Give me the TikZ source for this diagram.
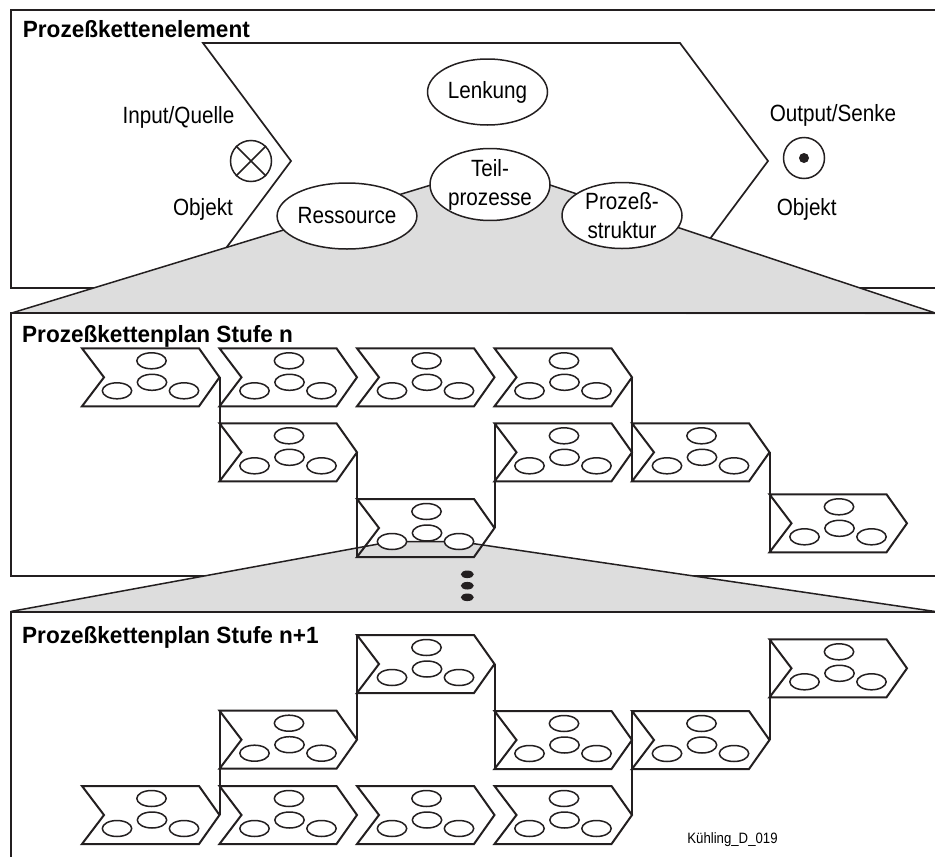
\documentclass[tikz,border=0pt]{standalone}
\usepackage{fontspec}
\setmainfont{Liberation Sans}[FakeStretch=0.88]
\newfontfamily\headfont{Liberation Sans}[FakeStretch=0.96]
\usetikzlibrary{shapes.geometric}

\definecolor{ink}{RGB}{35,31,32}
\definecolor{wedgegray}{RGB}{221,221,221}

\tikzset{
  frame/.style={draw=ink, line width=2pt},
  bigchev/.style={draw=ink, line width=1.7pt, line join=miter},
  chevline/.style={draw=ink, line width=2pt, line join=miter},
  conn/.style={draw=ink, line width=2pt},
  wedge/.style={draw=ink, line width=1.5pt},
  bigell/.style={ellipse, draw=ink, fill=white, line width=1.5pt,
    minimum width=120pt, minimum height=66pt, inner sep=0pt, align=center,
    font=\fontsize{23.5}{29}\selectfont},
  smallell/.style={draw=ink, fill=white, line width=1.5pt},
  lbl/.style={font=\fontsize{23.5}{28}\selectfont, inner sep=0pt, anchor=base},
  head/.style={font=\headfont\bfseries\fontsize{23.5}{28}\selectfont,
    inner sep=0pt, anchor=base west},
  symb/.style={circle, draw=ink, line width=1.5pt, minimum size=41pt, inner sep=0pt},
  % one small process chain element with its four resource ellipses
  pics/chev/.style={code={
    \draw[chevline] (0,0) coordinate (-tl) -- (117,0) -- (137.5,29) coordinate (-tip)
      -- (117,58) -- (0,58) coordinate (-bl) -- (22,29) -- cycle;
    \draw[smallell] (69.5,12.5) ellipse [x radius=14.7, y radius=8];
    \draw[smallell] (70,34) ellipse [x radius=14.7, y radius=8];
    \draw[smallell] (35,42.5) ellipse [x radius=14.7, y radius=8];
    \draw[smallell] (102,42.5) ellipse [x radius=14.7, y radius=8];
  }}
}

\begin{document}
\begin{tikzpicture}[x=1pt, y=-1pt]
\useasboundingbox (0,0) rectangle (935,857);
\clip (0,0) rectangle (935,857);

% ---------- Prozesskettenelement ----------
\draw[frame] (940,10) -- (10.7,10) -- (10.7,288.3) -- (940,288.3);
\node[head] (h1) at (22.7,37.3) {Prozeßkettenelement};

\draw[bigchev] (203,43) -- (680,43) -- (768,161) -- (680,279) -- (203,279) -- (291,161) -- cycle;

% zoom wedge down to the next level
\fill[wedgegray] (10.7,313.3) -- (431,185) -- (550,185) -- (940,314.6) -- cycle;
\draw[wedge] (10.7,313.3) -- (431,185) -- (550,185) -- (940,314.6);

\node[bigell] (lenk) at (487.5,92) {Lenkung};
\node[bigell] (teil) at (490,184.5) {Teil-\\prozesse};
\node[bigell] (ress) at (347,216) {Ressource};
\node[bigell] (pstr) at (622,215.5) {Prozeß-\\struktur};

\node[lbl] (tin) at (178.5,123.3) {Input/Quelle};
\node[lbl] (tobj1) at (203,215) {Objekt};
\node[symb] (srcsym) at (251,161) {};
\draw[wedge] (srcsym.north west) -- (srcsym.south east)
             (srcsym.north east) -- (srcsym.south west);

\node[lbl] (tout) at (833,121.7) {Output/Senke};
\node[lbl] (tobj2) at (806.7,215) {Objekt};
\node[symb] (sinksym) at (804,158) {};
\fill[ink] (sinksym.center) circle [radius=5pt];

% ---------- Prozesskettenplan Stufe n ----------
\draw[frame] (940,313.3) -- (10.7,313.3) -- (10.7,576) -- (940,576);
\node[head] (h2) at (22,342) {Prozeßkettenplan Stufe n};

\fill[wedgegray] (10.7,611.5) -- (392,541.5) -- (459,541.5) -- (940,612.2) -- cycle;
\draw[wedge] (10.7,611.5) -- (392,541.5) -- (459,541.5) -- (940,612.2);

\pic (p2a) at (82,348.3) {chev};
\pic (p2b) at (219.5,348.3) {chev};
\pic (p2c) at (357,348.3) {chev};
\pic (p2d) at (494.5,348.3) {chev};
\pic (p2e) at (219.5,423.3) {chev};
\pic (p2f) at (494.5,423.3) {chev};
\pic (p2g) at (632,423.3) {chev};
\pic (p2h) at (357,499) {chev};
\pic (p2i) at (769.5,494.3) {chev};

\draw[conn] (p2a-tip) -- (p2e-bl);
\draw[conn] (p2e-tip) -- (p2h-bl);
\draw[conn] (p2h-tip) -- (p2f-tl);
\draw[conn] (p2d-tip) -- (p2g-bl);
\draw[conn] (p2g-tip) -- (p2i-bl);

% vertical ellipsis between the levels
\fill[ink] (467.3,574.3) ellipse [x radius=6.5, y radius=3.8];
\fill[ink] (467.3,585.7) ellipse [x radius=6.5, y radius=3.8];
\fill[ink] (467.3,597.3) ellipse [x radius=6.5, y radius=3.8];

% ---------- Prozesskettenplan Stufe n+1 ----------
\draw[frame] (940,611.5) -- (10.7,611.5) -- (10.7,870);
\node[head] (h3) at (22,643) {Prozeßkettenplan Stufe n+1};

\pic (p3a) at (357,635) {chev};
\pic (p3b) at (769.5,639.3) {chev};
\pic (p3c) at (219.5,710.7) {chev};
\pic (p3d) at (494.5,711) {chev};
\pic (p3e) at (632,711) {chev};
\pic (p3f) at (82,786) {chev};
\pic (p3g) at (219.5,786) {chev};
\pic (p3h) at (357,786) {chev};
\pic (p3i) at (494.5,786) {chev};

\draw[conn] (p3f-tip) -- (p3c-tl);
\draw[conn] (p3c-tip) -- (p3a-tl);
\draw[conn] (p3a-tip) -- (p3d-bl);
\draw[conn] (p3i-tip) -- (p3e-tl);
\draw[conn] (p3e-tip) -- (p3b-tl);

\node[font=\fontsize{15}{18}\selectfont, inner sep=0pt, anchor=base] (tag) at (732.5,843.5) {Kühling\_D\_019};
\end{tikzpicture}
\end{document}
